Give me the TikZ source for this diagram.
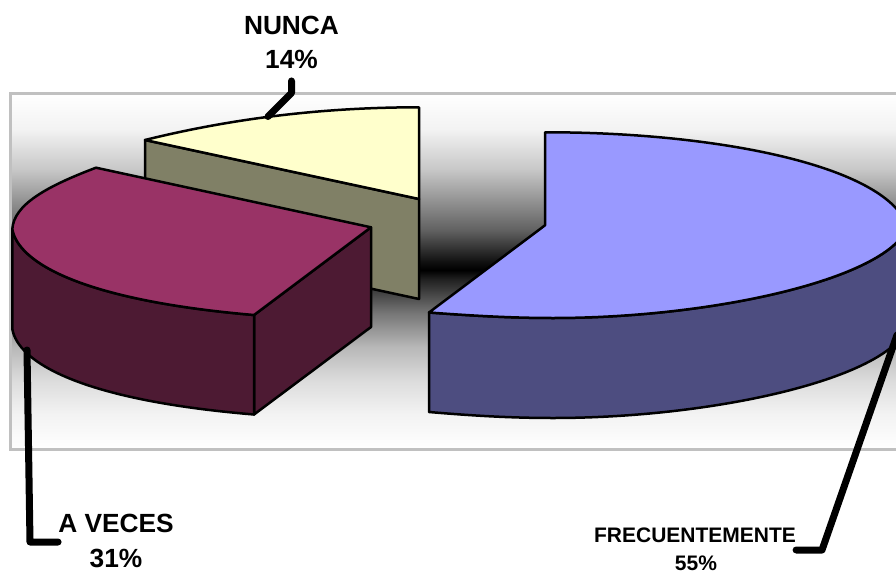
\documentclass[tikz,border=0pt]{standalone}
\usepackage{fontspec}
\setmainfont{Liberation Sans}
\pgfdeclareverticalshading{wallshade}{100bp}{
  rgb(0bp)=(1,1,1);
  rgb(25bp)=(1,1,1);
  rgb(30.1bp)=(.95,.95,.95);
  rgb(34.8bp)=(.86,.86,.86);
  rgb(39.4bp)=(.72,.72,.72);
  rgb(44.2bp)=(.46,.46,.46);
  rgb(49bp)=(.12,.12,.12);
  rgb(50.2bp)=(0,0,0);
  rgb(51.3bp)=(.06,.06,.06);
  rgb(55.8bp)=(.38,.38,.38);
  rgb(64.3bp)=(.78,.78,.78);
  rgb(69.9bp)=(.95,.95,.95);
  rgb(75bp)=(1,1,1);
  rgb(100bp)=(1,1,1)}
\definecolor{yellowtop}{HTML}{FFFFCC}
\definecolor{yellowside}{HTML}{808066}
\definecolor{maroontop}{HTML}{993366}
\definecolor{maroonside}{HTML}{4D1A33}
\definecolor{bluetop}{HTML}{9999FF}
\definecolor{blueside}{HTML}{4D4D80}
\definecolor{wallline}{HTML}{C0C0C0}
\tikzset{
  slice/.style={draw=black,line width=2.5pt,line join=round},
  leader/.style={draw=black,line width=7pt,line cap=round,line join=round},
  biglabel/.style={font=\fontsize{26.3}{30}\selectfont\bfseries,inner sep=0pt},
  smalllabel/.style={font=\fontsize{21}{25}\selectfont\bfseries,inner sep=0pt}
}
\begin{document}
\begin{tikzpicture}[x=1pt,y=-1pt]
\useasboundingbox (0,0) rectangle (896,575);
\clip (0,0) rectangle (896,575);
% wall
\shade[shading=wallshade] (10.5,93.5) rectangle (900,449.5);
\draw[draw=wallline,line width=2.6pt] (10.5,93.5) rectangle (900,449.5);
% yellow slice
\path[slice,fill=yellowside] (145,140) -- (419,199) -- (419,299) -- (145,240) -- cycle;
\path[slice,fill=yellowtop] (145,140)
  .. controls (230,119) and (320,107.3) .. (419,107.3) -- (419,199) -- cycle;
% maroon slice
\path[slice,fill=maroonside] (254,315) -- (371,227.3) -- (371,327) -- (254,414.5) -- cycle;
\path[slice,fill=maroonside] (12.3,229)
  .. controls (18,262) and (80,300) .. (254,315) -- (254,414.5)
  .. controls (80,400) and (18,362) .. (12.3,329) -- cycle;
\path[slice,fill=maroontop] (96,167.7) -- (371,227.3) -- (254,315)
  .. controls (80,300) and (18,262) .. (12.3,229)
  .. controls (14,205) and (45,187) .. (96,167.7) -- cycle;
% blue slice
\path[slice,fill=blueside] (429,312.5) -- (429,412)
  .. controls (470,415.5) and (510,418) .. (553,418)
  .. controls (700,418) and (860,385) .. (900,339)
  -- (900,239)
  .. controls (860,285) and (700,318) .. (553,318)
  .. controls (510,318) and (470,315.5) .. (429,312.5) -- cycle;
\path[slice,fill=bluetop] (545,225.3) -- (545,132.3)
  .. controls (700,132) and (860,160) .. (900,213) -- (900,239)
  .. controls (860,285) and (700,318) .. (553,318)
  .. controls (510,318) and (470,315.5) .. (429,312.5) -- cycle;
% labels
\node[biglabel] (nunca) at (291.5,25.3) {NUNCA};
\node[biglabel] (nuncapct) at (291.5,59.5) {14\%};
\node[biglabel] (aveces) at (116,523.5) {A VECES};
\node[biglabel] (avecespct) at (116,558.5) {31\%};
\node[smalllabel] (frec) at (695,535.5) {FRECUENTEMENTE};
\node[smalllabel] (frecpct) at (696,563.5) {55\%};
% leaders
\coordinate (nuncatip) at (268,116.5);
\coordinate (avecestip) at (27,350);
\coordinate (frectip) at (897,335);
\draw[leader] (nuncapct.south) ++(0,12) -- ++(0,12) -- (nuncatip);
\draw[leader] (avecestip) -- (30,542) -- (aveces.west |- 0,542);
\draw[leader] (frectip) -- (822,550) -- (frec.east |- 0,550);
\end{tikzpicture}
\end{document}
